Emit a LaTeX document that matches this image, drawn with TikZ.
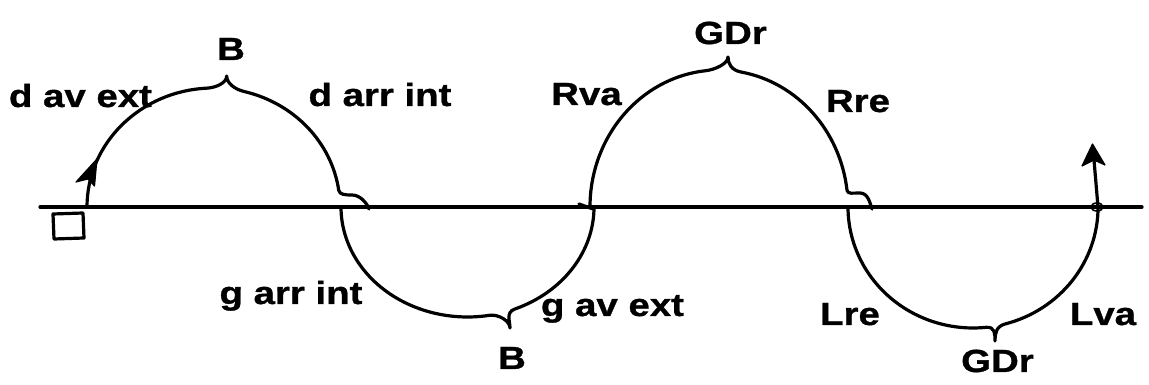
\documentclass[tikz,border=0pt]{standalone}
\usepackage{fontspec}
\newfontfamily\lblfont{Liberation Sans}[FakeStretch=1.2, BoldFeatures={FakeBold=1}]
\begin{document}
\begin{tikzpicture}[x=1pt,y=1pt,
  curve/.style={line width=3.2pt, line join=round, line cap=round},
  head/.style={fill=black, draw=black, line width=1.2pt, line join=round},
  lbl/.style={font=\lblfont\bfseries\fontsize{32}{36}\selectfont, inner sep=0pt, anchor=base}]
\useasboundingbox (0,0) rectangle (1149,385);
% axis
\draw[curve] (40,178) -- (1142,178);
% square
\draw[curve, line width=3.2pt] (54,146) -- (84,147) -- (83,172) -- (53,171) -- cycle;
% arc 1 (above) with start arrowhead
\draw[curve] (87,178) arc[start angle=180,end angle=93,x radius=126.5pt,y radius=119pt]
  .. controls +(9,0.5) and +(0,-7) .. (226.7,309)
  .. controls +(0,-7) and +(-9.7,2.3) .. (244.1,293.5)
  arc[start angle=76,end angle=8,x radius=126.5pt,y radius=119pt]
  .. controls +(1,-4) and +(-8,0) .. (352,190)
  .. controls +(8,0) and +(-2,6) .. (369,176);
\filldraw[head] (97,226) -- (94.5,199) -- (88,206) -- (76,203) -- cycle;
% arc 2 (below)
\draw[curve] (341,178) arc[start angle=180,end angle=280,x radius=126.5pt,y radius=110pt]
  .. controls +(9,1.4) and +(0,7) .. (510,57)
  .. controls +(0,7) and +(-9.4,-3.3) .. (514.9,76)
  arc[start angle=292,end angle=360,x radius=126.5pt,y radius=110pt];
\draw[curve] (579,181) -- (593,176);
% arc 3 (above)
\draw[curve] (590,178) arc[start angle=180,end angle=96,x radius=129pt,y radius=137pt]
  .. controls +(9,1) and +(0,-7) .. (728,328)
  .. controls +(0,-7) and +(-9.8,1.8) .. (741.4,312.9)
  arc[start angle=80,end angle=7,x radius=129pt,y radius=137pt]
  .. controls +(1,-4) and +(-8,0) .. (860,192)
  .. controls +(8,0) and +(-2,6) .. (872,176);
% arc 4 (below)
\draw[curve] (848,178) arc[start angle=180,end angle=276,x radius=125pt,y radius=121pt]
  .. controls +(9,0.9) and +(0,7) .. (995,44)
  .. controls +(0,7) and +(-9.7,-2.5) .. (1005.4,61.1)
  arc[start angle=285,end angle=360,x radius=125pt,y radius=121pt];
% end arrow
\coordinate (endpt) at (1098,178);
\coordinate (endnotch) at (1094,225);
\draw[curve] (endpt) -- (endnotch);
\filldraw[head] (1092.5,241) -- (1105,220) -- (endnotch) -- (1082,219) -- cycle;
\draw[line width=1.6pt] (1097,178) ellipse[x radius=6pt, y radius=4pt];
% labels
\node[lbl] (dave) at (80.5,278) {d av ext};
\node[lbl] (darr) at (380,279) {d arr int};
\node[lbl] (btop) at (231,325) {B};
\node[lbl] (garr) at (291,81) {g arr int};
\node[lbl] (gave) at (612.5,69) {g av ext};
\node[lbl] (bbot) at (512,16) {B};
\node[lbl] (rva) at (586.5,280) {Rva};
\node[lbl] (gdrtop) at (730.5,341) {GDr};
\node[lbl] (rre) at (858,273) {Rre};
\node[lbl] (lre) at (850,60) {Lre};
\node[lbl] (lva) at (1103,60) {Lva};
\node[lbl] (gdrbot) at (997.5,13) {GDr};
\end{tikzpicture}
\end{document}
